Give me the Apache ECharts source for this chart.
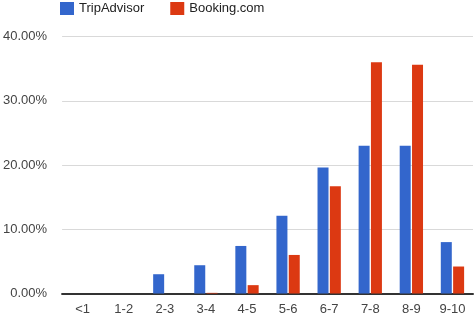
<!DOCTYPE html>
<html><head><meta charset="utf-8">
<script src="https://cdn.jsdelivr.net/npm/echarts@6/dist/echarts.min.js"></script>
<style>html,body{margin:0;padding:0;background:#fff}#c{width:475px;height:323px}</style>
</head><body><div id="c"></div>
<script>
var categories = ["<1","1-2","2-3","3-4","4-5","5-6","6-7","7-8","8-9","9-10"];
var tripAdvisor = [0, 0, 3.0, 4.4, 7.4, 12.1, 19.6, 23.0, 23.0, 8.0];
var booking = [0, 0, 0, 0.1, 1.3, 6.0, 16.7, 36.0, 35.6, 4.2];
var yTicks = [0, 10, 20, 30, 40];

var chart = echarts.init(document.getElementById('c'), null, {renderer:'canvas'});
chart.setOption({
  animation: false,
  textStyle: {fontFamily: 'Liberation Sans, Arial, sans-serif'},
  legend: {
    top: 2, left: 60, padding: 0, itemWidth: 14, itemHeight: 13, itemGap: 26,
    icon: 'rect',
    textStyle: {fontSize: 13, color: '#222'},
    data: ['TripAdvisor', 'Booking.com']
  },
  grid: {left: 61, right: 2, top: 36.5, bottom: 29.5, containLabel: false},
  xAxis: {
    type: 'category', data: categories,
    axisTick: {show: false},
    axisLine: {lineStyle: {color: '#333', width: 2}},
    axisLabel: {fontSize: 13, color: '#444', margin: 9}
  },
  yAxis: {
    type: 'value', min: yTicks[0], max: yTicks[yTicks.length-1], interval: 10,
    axisLine: {show: false}, axisTick: {show: false},
    splitLine: {lineStyle: {color: '#d9d9d9', width: 1}},
    axisLabel: {fontSize: 13, color: '#444', margin: 15,
      formatter: function(v){ return v.toFixed(2) + '%'; }}
  },
  series: [
    {name: 'TripAdvisor', type: 'bar', data: tripAdvisor, barWidth: 11, barGap: '12%',
     itemStyle: {color: '#3366cc'}},
    {name: 'Booking.com', type: 'bar', data: booking, barWidth: 11,
     itemStyle: {color: '#dc3912'}}
  ]
});
</script></body></html>
